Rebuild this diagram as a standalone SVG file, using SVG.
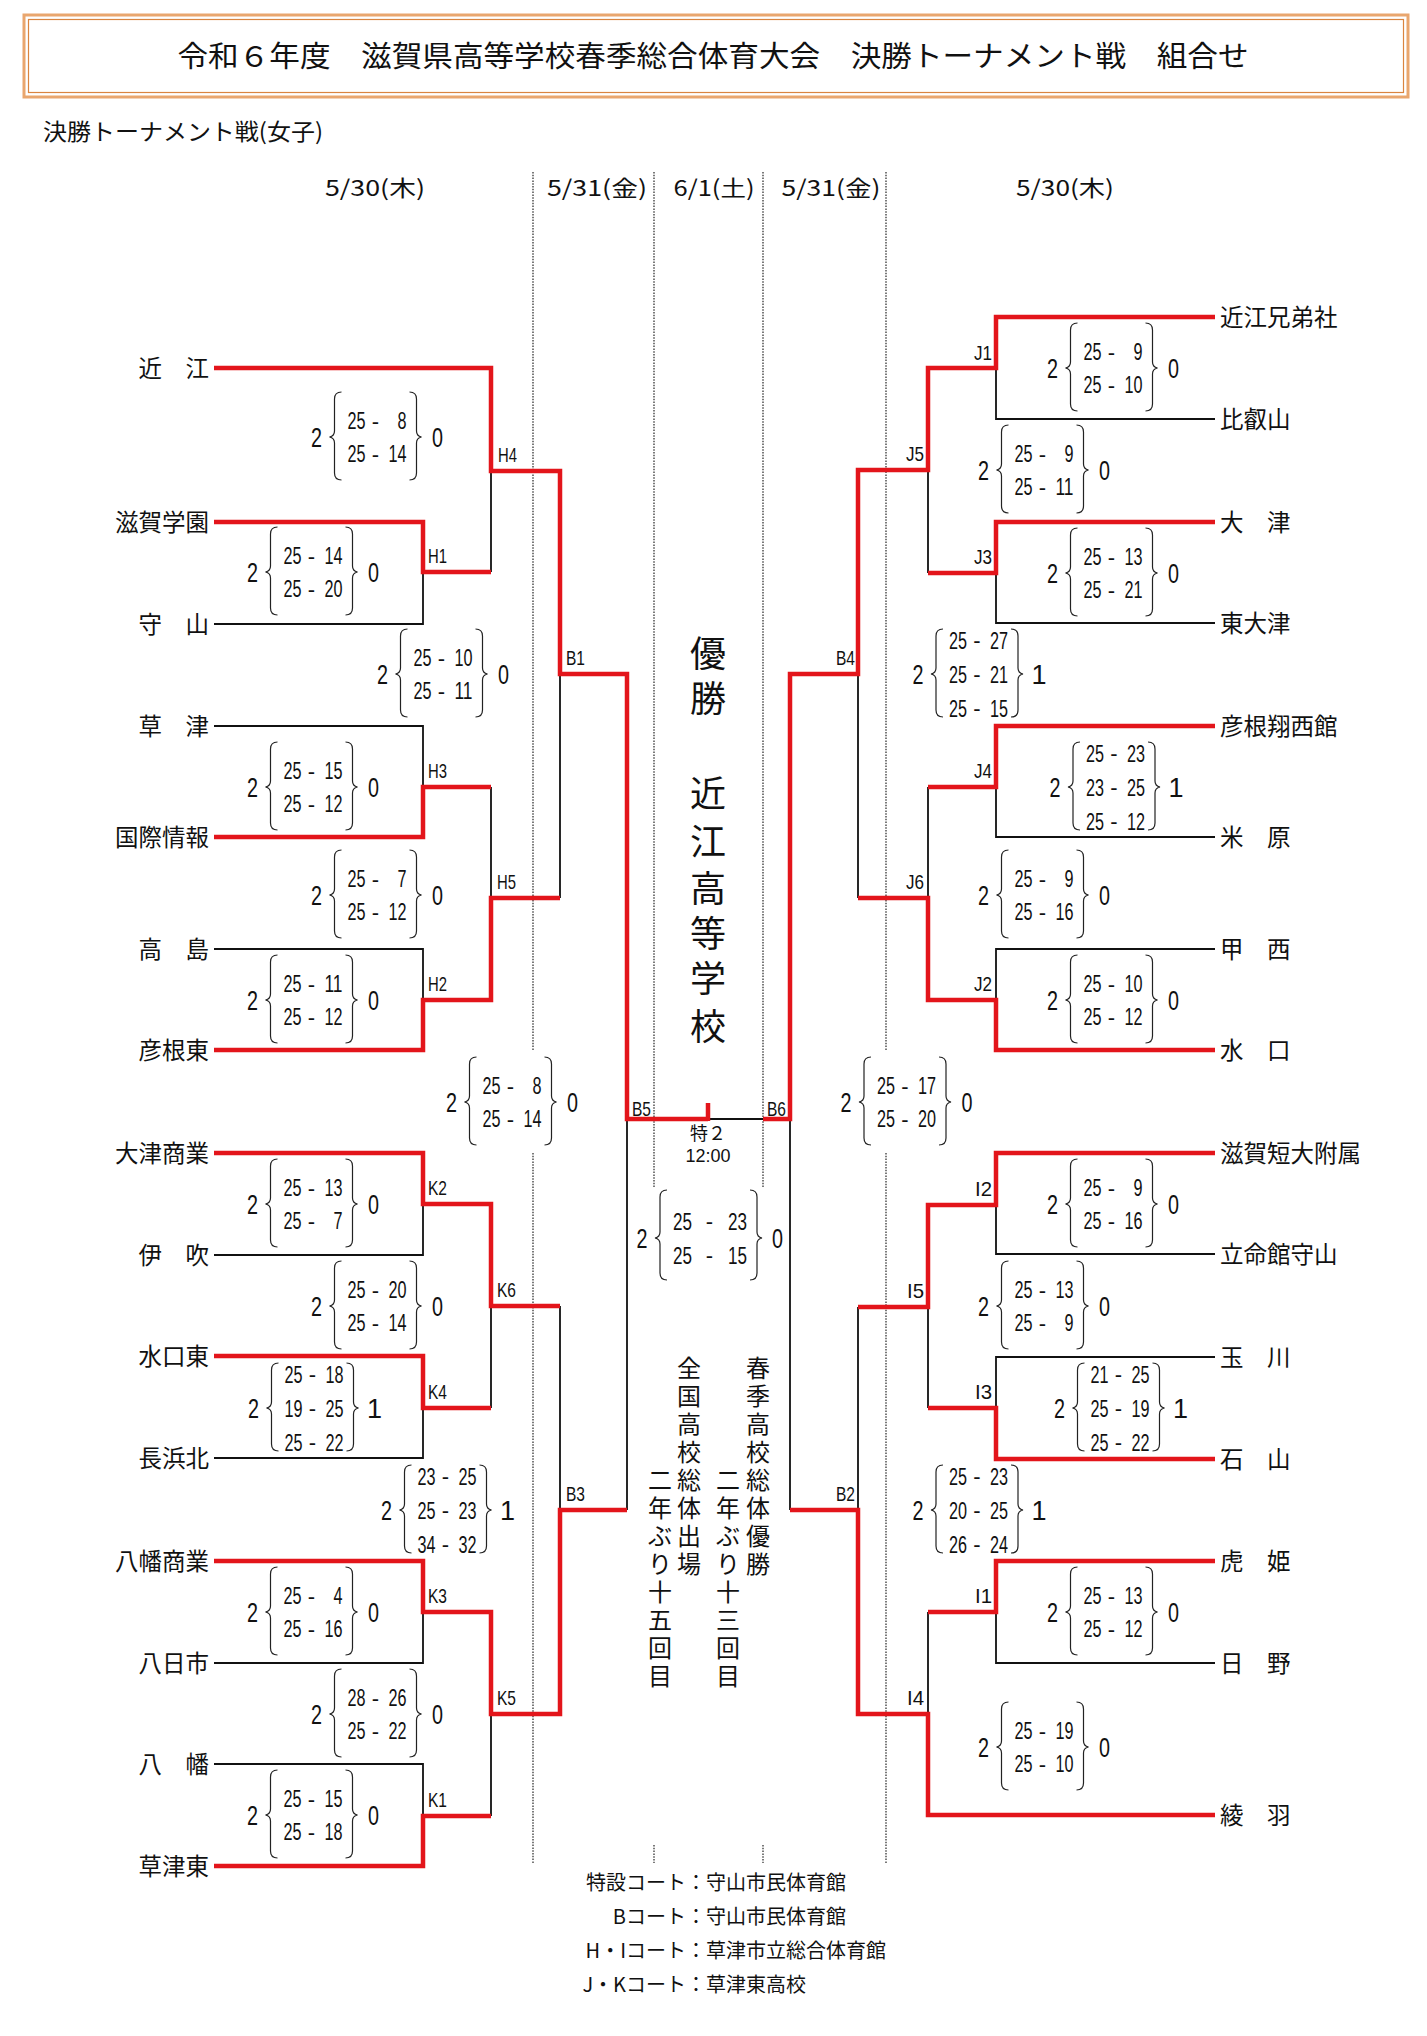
<svg xmlns="http://www.w3.org/2000/svg" xmlns:xlink="http://www.w3.org/1999/xlink" width="1427" height="2036" viewBox="0 0 1427 2036">
<style>
.red{fill:none;stroke:#e3151b;stroke-width:4.5;stroke-linejoin:miter}
.blk{fill:none;stroke:#111;stroke-width:1.8}
.dot{fill:none;stroke:#333;stroke-width:1.3;stroke-dasharray:1.5 1.3}
.jp{font-family:"Noto Sans CJK JP","Noto Sans CJK SC",sans-serif;fill:#111}
.nm{font-size:23.5px}
.nmL{text-anchor:end}
.lb{font-family:"Liberation Sans",sans-serif;font-size:21px;fill:#111}
.lbR{text-anchor:end}
.cnt{font-family:"Liberation Sans",sans-serif;font-size:27px;fill:#111;text-anchor:middle}
.sc{font-family:"Liberation Sans",sans-serif;font-size:23.5px;fill:#111;text-anchor:end}
.ds{font-family:"Liberation Sans",sans-serif;font-size:22px;fill:#111;text-anchor:middle}
.br{fill:none;stroke:#222;stroke-width:1.2}
.big{font-size:36px;text-anchor:middle}
.vt{font-size:24px;text-anchor:middle}
.lg{font-size:20px}
</style>
<defs>
<path id="brL" class="br" d="M25,-45 Q18,-45 18,-38 V-6 Q18,-1 13,0 Q18,1 18,6 V36 Q18,43 25,43"/>
<path id="brR" class="br" d="M93,-45 Q100,-45 100,-38 V-6 Q100,-1 105,0 Q100,1 100,6 V36 Q100,43 93,43"/>
</defs>
<rect width="1427" height="2036" fill="#fff"/>

<g id="title">
<rect x="24" y="15" width="1384" height="82" fill="none" stroke="#e9a66e" stroke-width="3"/>
<rect x="28.5" y="19.5" width="1375" height="73" fill="none" stroke="#d9843f" stroke-width="1.2"/>
<text class="jp" x="713" y="67" text-anchor="middle" font-size="29" textLength="1071" lengthAdjust="spacingAndGlyphs">令和６年度　滋賀県高等学校春季総合体育大会　決勝トーナメント戦　組合せ</text>
</g>
<text id="subtitle" class="jp" x="43" y="140" font-size="23" textLength="280" lengthAdjust="spacingAndGlyphs">決勝トーナメント戦(女子)</text>

<g id="dates" class="jp" font-size="22" text-anchor="middle">
<text x="375" y="196" textLength="100" lengthAdjust="spacingAndGlyphs">5/30(木)</text>
<text x="597" y="196" textLength="100" lengthAdjust="spacingAndGlyphs">5/31(金)</text>
<text x="714" y="196" textLength="81" lengthAdjust="spacingAndGlyphs">6/1(土)</text>
<text x="831" y="196" textLength="99" lengthAdjust="spacingAndGlyphs">5/31(金)</text>
<text x="1065" y="196" textLength="98" lengthAdjust="spacingAndGlyphs">5/30(木)</text>
</g>

<g id="day-dividers">
<path class="dot" d="M533,172 V1050 M533,1153 V1863 M886,172 V1050 M886,1153 V1863 M654,172 V1187 M654,1845 V1863 M763,172 V1187 M763,1845 V1863"/>
</g>

<g id="connectors">
<path class="blk" d="M214,624 H423 V572 M214,726 H423 V787 M214,949 H423 V1000 M491,572 V471 M491,787 V898 M560,898 V674 M627,1119 V1510"/>
<path class="blk" d="M214,1255 H423 V1204 M214,1458 H423 V1408 M491,1408 V1306 M560,1306 V1510 M214,1663 H423 V1612 M214,1764 H423 V1816 M491,1816 V1714"/>
<path class="blk" d="M1215,419 H996 V368 M1215,623 H996 V573 M928,573 V470 M858,674 V898 M928,787 V898 M1215,837 H996 V787 M1215,949 H996 V1000 M790,1119 V1510 M763,1119 H708"/>
<path class="blk" d="M1215,1254 H996 V1205 M928,1307 V1408 M1215,1357 H996 V1408 M858,1307 V1510 M1215,1663 H996 V1612 M928,1612 V1714"/>
<path class="red" d="M214,368 H491 V471 H560 V674 H627 V1119 H708 M708,1121 V1103"/>
<path class="red" d="M214,522 H423 V572 H491 M214,837 H423 V787 H491 M214,1050 H423 V1000 H491 V898 H560"/>
<path class="red" d="M214,1153 H423 V1204 H491 V1306 H560 M214,1356 H423 V1408 H491 M214,1561 H423 V1612 H491 V1714 H560 V1510 H627 M214,1866 H423 V1816 H491"/>
<path class="red" d="M1215,317 H996 V368 H928 V470 H858 V674 H790 V1119 H763 M1215,522 H996 V573 H928 M1215,726 H996 V787 H928 M1215,1050 H996 V1000 H928 V898 H858"/>
<path class="red" d="M1215,1153 H996 V1205 H928 V1307 H858 M1215,1459 H996 V1408 H928 M790,1510 H858 V1714 H928 V1815 H1215 M1215,1561 H996 V1612 H928"/>
</g>

<g id="teams-left" class="jp nm nmL">
<g id="t-omi"><text x="209" y="376.5">近　江</text></g>
<g id="t-shigagakuen"><text x="209" y="530.5">滋賀学園</text></g>
<g id="t-moriyama"><text x="209" y="632.5">守　山</text></g>
<g id="t-kusatsu"><text x="209" y="734.5">草　津</text></g>
<g id="t-kokusai"><text x="209" y="845.5">国際情報</text></g>
<g id="t-takashima"><text x="209" y="957.5">高　島</text></g>
<g id="t-hikonehigashi"><text x="209" y="1058.5">彦根東</text></g>
<g id="t-otsushogyo"><text x="209" y="1161.5">大津商業</text></g>
<g id="t-ibuki"><text x="209" y="1263.5">伊　吹</text></g>
<g id="t-minakuchihigashi"><text x="209" y="1364.5">水口東</text></g>
<g id="t-nagahamakita"><text x="209" y="1466.5">長浜北</text></g>
<g id="t-hachimanshogyo"><text x="209" y="1569.5">八幡商業</text></g>
<g id="t-yokaichi"><text x="209" y="1671.5">八日市</text></g>
<g id="t-hachiman"><text x="209" y="1772.5">八　幡</text></g>
<g id="t-kusatsuhigashi"><text x="209" y="1874.5">草津東</text></g>
</g>

<g id="teams-right" class="jp nm">
<g id="t-omikyodaisha"><text x="1220" y="325.5">近江兄弟社</text></g>
<g id="t-hieizan"><text x="1220" y="427.5">比叡山</text></g>
<g id="t-otsu"><text x="1220" y="530.5">大　津</text></g>
<g id="t-higashiotsu"><text x="1220" y="631.5">東大津</text></g>
<g id="t-hikoneshosei"><text x="1220" y="734.5">彦根翔西館</text></g>
<g id="t-maibara"><text x="1220" y="845.5">米　原</text></g>
<g id="t-kosei"><text x="1220" y="957.5">甲　西</text></g>
<g id="t-minakuchi"><text x="1220" y="1058.5">水　口</text></g>
<g id="t-shigatandai"><text x="1220" y="1161.5">滋賀短大附属</text></g>
<g id="t-ritsumeikan"><text x="1220" y="1262.5">立命館守山</text></g>
<g id="t-tamagawa"><text x="1220" y="1365.5">玉　川</text></g>
<g id="t-ishiyama"><text x="1220" y="1467.5">石　山</text></g>
<g id="t-torahime"><text x="1220" y="1569.5">虎　姫</text></g>
<g id="t-hino"><text x="1220" y="1671.5">日　野</text></g>
<g id="t-ayaha"><text x="1220" y="1823.5">綾　羽</text></g>
</g>

<g id="match-labels">
<text class="lb" x="498" y="462" textLength="19" lengthAdjust="spacingAndGlyphs">H4</text>
<text class="lb" x="428" y="563" textLength="19" lengthAdjust="spacingAndGlyphs">H1</text>
<text class="lb" x="566" y="665" textLength="19" lengthAdjust="spacingAndGlyphs">B1</text>
<text class="lb" x="428" y="778" textLength="19" lengthAdjust="spacingAndGlyphs">H3</text>
<text class="lb" x="497" y="889" textLength="19" lengthAdjust="spacingAndGlyphs">H5</text>
<text class="lb" x="428" y="991" textLength="19" lengthAdjust="spacingAndGlyphs">H2</text>
<text class="lb" x="632" y="1116" textLength="19" lengthAdjust="spacingAndGlyphs">B5</text>
<text class="lb" x="428" y="1195" textLength="19" lengthAdjust="spacingAndGlyphs">K2</text>
<text class="lb" x="497" y="1297" textLength="19" lengthAdjust="spacingAndGlyphs">K6</text>
<text class="lb" x="428" y="1399" textLength="19" lengthAdjust="spacingAndGlyphs">K4</text>
<text class="lb" x="566" y="1501" textLength="19" lengthAdjust="spacingAndGlyphs">B3</text>
<text class="lb" x="428" y="1603" textLength="19" lengthAdjust="spacingAndGlyphs">K3</text>
<text class="lb" x="497" y="1705" textLength="19" lengthAdjust="spacingAndGlyphs">K5</text>
<text class="lb" x="428" y="1807" textLength="19" lengthAdjust="spacingAndGlyphs">K1</text>
<text class="lb lbR" x="992" y="360" textLength="18" lengthAdjust="spacingAndGlyphs">J1</text>
<text class="lb lbR" x="924" y="461" textLength="18" lengthAdjust="spacingAndGlyphs">J5</text>
<text class="lb lbR" x="992" y="564" textLength="18" lengthAdjust="spacingAndGlyphs">J3</text>
<text class="lb lbR" x="855" y="665" textLength="19" lengthAdjust="spacingAndGlyphs">B4</text>
<text class="lb lbR" x="992" y="778" textLength="18" lengthAdjust="spacingAndGlyphs">J4</text>
<text class="lb lbR" x="924" y="889" textLength="18" lengthAdjust="spacingAndGlyphs">J6</text>
<text class="lb lbR" x="992" y="991" textLength="18" lengthAdjust="spacingAndGlyphs">J2</text>
<text class="lb lbR" x="786" y="1116" textLength="19" lengthAdjust="spacingAndGlyphs">B6</text>
<text class="lb lbR" x="992" y="1196" textLength="17" lengthAdjust="spacingAndGlyphs">I2</text>
<text class="lb lbR" x="924" y="1298" textLength="17" lengthAdjust="spacingAndGlyphs">I5</text>
<text class="lb lbR" x="992" y="1399" textLength="17" lengthAdjust="spacingAndGlyphs">I3</text>
<text class="lb lbR" x="855" y="1501" textLength="19" lengthAdjust="spacingAndGlyphs">B2</text>
<text class="lb lbR" x="992" y="1603" textLength="17" lengthAdjust="spacingAndGlyphs">I1</text>
<text class="lb lbR" x="924" y="1705" textLength="17" lengthAdjust="spacingAndGlyphs">I4</text>
</g>

<g id="scores">
<g id="s-h4" transform="translate(316.5,437)"><text class="cnt" y="9.5" textLength="11" lengthAdjust="spacingAndGlyphs">2</text><use href="#brL"/><text class="sc" x="49" y="-8" textLength="18" lengthAdjust="spacingAndGlyphs">25</text><text class="ds" x="59" y="-8.5">-</text><text class="sc" x="90" y="-8" textLength="9" lengthAdjust="spacingAndGlyphs">8</text><text class="sc" x="49" y="25" textLength="18" lengthAdjust="spacingAndGlyphs">25</text><text class="ds" x="59" y="24.5">-</text><text class="sc" x="90" y="25" textLength="18" lengthAdjust="spacingAndGlyphs">14</text><use href="#brR"/><text class="cnt" x="121" y="9.5" textLength="11" lengthAdjust="spacingAndGlyphs">0</text></g>
<g id="s-h1" transform="translate(252.5,572)"><text class="cnt" y="9.5" textLength="11" lengthAdjust="spacingAndGlyphs">2</text><use href="#brL"/><text class="sc" x="49" y="-8" textLength="18" lengthAdjust="spacingAndGlyphs">25</text><text class="ds" x="59" y="-8.5">-</text><text class="sc" x="90" y="-8" textLength="18" lengthAdjust="spacingAndGlyphs">14</text><text class="sc" x="49" y="25" textLength="18" lengthAdjust="spacingAndGlyphs">25</text><text class="ds" x="59" y="24.5">-</text><text class="sc" x="90" y="25" textLength="18" lengthAdjust="spacingAndGlyphs">20</text><use href="#brR"/><text class="cnt" x="121" y="9.5" textLength="11" lengthAdjust="spacingAndGlyphs">0</text></g>
<g id="s-b1" transform="translate(382.5,674)"><text class="cnt" y="9.5" textLength="11" lengthAdjust="spacingAndGlyphs">2</text><use href="#brL"/><text class="sc" x="49" y="-8" textLength="18" lengthAdjust="spacingAndGlyphs">25</text><text class="ds" x="59" y="-8.5">-</text><text class="sc" x="90" y="-8" textLength="18" lengthAdjust="spacingAndGlyphs">10</text><text class="sc" x="49" y="25" textLength="18" lengthAdjust="spacingAndGlyphs">25</text><text class="ds" x="59" y="24.5">-</text><text class="sc" x="90" y="25" textLength="18" lengthAdjust="spacingAndGlyphs">11</text><use href="#brR"/><text class="cnt" x="121" y="9.5" textLength="11" lengthAdjust="spacingAndGlyphs">0</text></g>
<g id="s-h3" transform="translate(252.5,787)"><text class="cnt" y="9.5" textLength="11" lengthAdjust="spacingAndGlyphs">2</text><use href="#brL"/><text class="sc" x="49" y="-8" textLength="18" lengthAdjust="spacingAndGlyphs">25</text><text class="ds" x="59" y="-8.5">-</text><text class="sc" x="90" y="-8" textLength="18" lengthAdjust="spacingAndGlyphs">15</text><text class="sc" x="49" y="25" textLength="18" lengthAdjust="spacingAndGlyphs">25</text><text class="ds" x="59" y="24.5">-</text><text class="sc" x="90" y="25" textLength="18" lengthAdjust="spacingAndGlyphs">12</text><use href="#brR"/><text class="cnt" x="121" y="9.5" textLength="11" lengthAdjust="spacingAndGlyphs">0</text></g>
<g id="s-h5" transform="translate(316.5,895)"><text class="cnt" y="9.5" textLength="11" lengthAdjust="spacingAndGlyphs">2</text><use href="#brL"/><text class="sc" x="49" y="-8" textLength="18" lengthAdjust="spacingAndGlyphs">25</text><text class="ds" x="59" y="-8.5">-</text><text class="sc" x="90" y="-8" textLength="9" lengthAdjust="spacingAndGlyphs">7</text><text class="sc" x="49" y="25" textLength="18" lengthAdjust="spacingAndGlyphs">25</text><text class="ds" x="59" y="24.5">-</text><text class="sc" x="90" y="25" textLength="18" lengthAdjust="spacingAndGlyphs">12</text><use href="#brR"/><text class="cnt" x="121" y="9.5" textLength="11" lengthAdjust="spacingAndGlyphs">0</text></g>
<g id="s-h2" transform="translate(252.5,1000)"><text class="cnt" y="9.5" textLength="11" lengthAdjust="spacingAndGlyphs">2</text><use href="#brL"/><text class="sc" x="49" y="-8" textLength="18" lengthAdjust="spacingAndGlyphs">25</text><text class="ds" x="59" y="-8.5">-</text><text class="sc" x="90" y="-8" textLength="18" lengthAdjust="spacingAndGlyphs">11</text><text class="sc" x="49" y="25" textLength="18" lengthAdjust="spacingAndGlyphs">25</text><text class="ds" x="59" y="24.5">-</text><text class="sc" x="90" y="25" textLength="18" lengthAdjust="spacingAndGlyphs">12</text><use href="#brR"/><text class="cnt" x="121" y="9.5" textLength="11" lengthAdjust="spacingAndGlyphs">0</text></g>
<g id="s-b5" transform="translate(451.5,1102)"><text class="cnt" y="9.5" textLength="11" lengthAdjust="spacingAndGlyphs">2</text><use href="#brL"/><text class="sc" x="49" y="-8" textLength="18" lengthAdjust="spacingAndGlyphs">25</text><text class="ds" x="59" y="-8.5">-</text><text class="sc" x="90" y="-8" textLength="9" lengthAdjust="spacingAndGlyphs">8</text><text class="sc" x="49" y="25" textLength="18" lengthAdjust="spacingAndGlyphs">25</text><text class="ds" x="59" y="24.5">-</text><text class="sc" x="90" y="25" textLength="18" lengthAdjust="spacingAndGlyphs">14</text><use href="#brR"/><text class="cnt" x="121" y="9.5" textLength="11" lengthAdjust="spacingAndGlyphs">0</text></g>
<g id="s-k2" transform="translate(252.5,1204)"><text class="cnt" y="9.5" textLength="11" lengthAdjust="spacingAndGlyphs">2</text><use href="#brL"/><text class="sc" x="49" y="-8" textLength="18" lengthAdjust="spacingAndGlyphs">25</text><text class="ds" x="59" y="-8.5">-</text><text class="sc" x="90" y="-8" textLength="18" lengthAdjust="spacingAndGlyphs">13</text><text class="sc" x="49" y="25" textLength="18" lengthAdjust="spacingAndGlyphs">25</text><text class="ds" x="59" y="24.5">-</text><text class="sc" x="90" y="25" textLength="9" lengthAdjust="spacingAndGlyphs">7</text><use href="#brR"/><text class="cnt" x="121" y="9.5" textLength="11" lengthAdjust="spacingAndGlyphs">0</text></g>
<g id="s-k6" transform="translate(316.5,1306)"><text class="cnt" y="9.5" textLength="11" lengthAdjust="spacingAndGlyphs">2</text><use href="#brL"/><text class="sc" x="49" y="-8" textLength="18" lengthAdjust="spacingAndGlyphs">25</text><text class="ds" x="59" y="-8.5">-</text><text class="sc" x="90" y="-8" textLength="18" lengthAdjust="spacingAndGlyphs">20</text><text class="sc" x="49" y="25" textLength="18" lengthAdjust="spacingAndGlyphs">25</text><text class="ds" x="59" y="24.5">-</text><text class="sc" x="90" y="25" textLength="18" lengthAdjust="spacingAndGlyphs">14</text><use href="#brR"/><text class="cnt" x="121" y="9.5" textLength="11" lengthAdjust="spacingAndGlyphs">0</text></g>
<g id="s-k4" transform="translate(253.5,1408)"><text class="cnt" y="9.5" textLength="11" lengthAdjust="spacingAndGlyphs">2</text><use href="#brL"/><text class="sc" x="49" y="-25.5" textLength="18" lengthAdjust="spacingAndGlyphs">25</text><text class="ds" x="59" y="-26">-</text><text class="sc" x="90" y="-25.5" textLength="18" lengthAdjust="spacingAndGlyphs">18</text><text class="sc" x="49" y="8.5" textLength="18" lengthAdjust="spacingAndGlyphs">19</text><text class="ds" x="59" y="8">-</text><text class="sc" x="90" y="8.5" textLength="18" lengthAdjust="spacingAndGlyphs">25</text><text class="sc" x="49" y="42.5" textLength="18" lengthAdjust="spacingAndGlyphs">25</text><text class="ds" x="59" y="42">-</text><text class="sc" x="90" y="42.5" textLength="18" lengthAdjust="spacingAndGlyphs">22</text><use href="#brR"/><text class="cnt" x="121" y="9.5">1</text></g>
<g id="s-b3" transform="translate(386.5,1510)"><text class="cnt" y="9.5" textLength="11" lengthAdjust="spacingAndGlyphs">2</text><use href="#brL"/><text class="sc" x="49" y="-25.5" textLength="18" lengthAdjust="spacingAndGlyphs">23</text><text class="ds" x="59" y="-26">-</text><text class="sc" x="90" y="-25.5" textLength="18" lengthAdjust="spacingAndGlyphs">25</text><text class="sc" x="49" y="8.5" textLength="18" lengthAdjust="spacingAndGlyphs">25</text><text class="ds" x="59" y="8">-</text><text class="sc" x="90" y="8.5" textLength="18" lengthAdjust="spacingAndGlyphs">23</text><text class="sc" x="49" y="42.5" textLength="18" lengthAdjust="spacingAndGlyphs">34</text><text class="ds" x="59" y="42">-</text><text class="sc" x="90" y="42.5" textLength="18" lengthAdjust="spacingAndGlyphs">32</text><use href="#brR"/><text class="cnt" x="121" y="9.5">1</text></g>
<g id="s-k3" transform="translate(252.5,1612)"><text class="cnt" y="9.5" textLength="11" lengthAdjust="spacingAndGlyphs">2</text><use href="#brL"/><text class="sc" x="49" y="-8" textLength="18" lengthAdjust="spacingAndGlyphs">25</text><text class="ds" x="59" y="-8.5">-</text><text class="sc" x="90" y="-8" textLength="9" lengthAdjust="spacingAndGlyphs">4</text><text class="sc" x="49" y="25" textLength="18" lengthAdjust="spacingAndGlyphs">25</text><text class="ds" x="59" y="24.5">-</text><text class="sc" x="90" y="25" textLength="18" lengthAdjust="spacingAndGlyphs">16</text><use href="#brR"/><text class="cnt" x="121" y="9.5" textLength="11" lengthAdjust="spacingAndGlyphs">0</text></g>
<g id="s-k5" transform="translate(316.5,1714)"><text class="cnt" y="9.5" textLength="11" lengthAdjust="spacingAndGlyphs">2</text><use href="#brL"/><text class="sc" x="49" y="-8" textLength="18" lengthAdjust="spacingAndGlyphs">28</text><text class="ds" x="59" y="-8.5">-</text><text class="sc" x="90" y="-8" textLength="18" lengthAdjust="spacingAndGlyphs">26</text><text class="sc" x="49" y="25" textLength="18" lengthAdjust="spacingAndGlyphs">25</text><text class="ds" x="59" y="24.5">-</text><text class="sc" x="90" y="25" textLength="18" lengthAdjust="spacingAndGlyphs">22</text><use href="#brR"/><text class="cnt" x="121" y="9.5" textLength="11" lengthAdjust="spacingAndGlyphs">0</text></g>
<g id="s-k1" transform="translate(252.5,1815)"><text class="cnt" y="9.5" textLength="11" lengthAdjust="spacingAndGlyphs">2</text><use href="#brL"/><text class="sc" x="49" y="-8" textLength="18" lengthAdjust="spacingAndGlyphs">25</text><text class="ds" x="59" y="-8.5">-</text><text class="sc" x="90" y="-8" textLength="18" lengthAdjust="spacingAndGlyphs">15</text><text class="sc" x="49" y="25" textLength="18" lengthAdjust="spacingAndGlyphs">25</text><text class="ds" x="59" y="24.5">-</text><text class="sc" x="90" y="25" textLength="18" lengthAdjust="spacingAndGlyphs">18</text><use href="#brR"/><text class="cnt" x="121" y="9.5" textLength="11" lengthAdjust="spacingAndGlyphs">0</text></g>

<g id="s-j1" transform="translate(1052.5,368)"><text class="cnt" y="9.5" textLength="11" lengthAdjust="spacingAndGlyphs">2</text><use href="#brL"/><text class="sc" x="49" y="-8" textLength="18" lengthAdjust="spacingAndGlyphs">25</text><text class="ds" x="59" y="-8.5">-</text><text class="sc" x="90" y="-8" textLength="9" lengthAdjust="spacingAndGlyphs">9</text><text class="sc" x="49" y="25" textLength="18" lengthAdjust="spacingAndGlyphs">25</text><text class="ds" x="59" y="24.5">-</text><text class="sc" x="90" y="25" textLength="18" lengthAdjust="spacingAndGlyphs">10</text><use href="#brR"/><text class="cnt" x="121" y="9.5" textLength="11" lengthAdjust="spacingAndGlyphs">0</text></g>
<g id="s-j5" transform="translate(983.5,470)"><text class="cnt" y="9.5" textLength="11" lengthAdjust="spacingAndGlyphs">2</text><use href="#brL"/><text class="sc" x="49" y="-8" textLength="18" lengthAdjust="spacingAndGlyphs">25</text><text class="ds" x="59" y="-8.5">-</text><text class="sc" x="90" y="-8" textLength="9" lengthAdjust="spacingAndGlyphs">9</text><text class="sc" x="49" y="25" textLength="18" lengthAdjust="spacingAndGlyphs">25</text><text class="ds" x="59" y="24.5">-</text><text class="sc" x="90" y="25" textLength="18" lengthAdjust="spacingAndGlyphs">11</text><use href="#brR"/><text class="cnt" x="121" y="9.5" textLength="11" lengthAdjust="spacingAndGlyphs">0</text></g>
<g id="s-j3" transform="translate(1052.5,573)"><text class="cnt" y="9.5" textLength="11" lengthAdjust="spacingAndGlyphs">2</text><use href="#brL"/><text class="sc" x="49" y="-8" textLength="18" lengthAdjust="spacingAndGlyphs">25</text><text class="ds" x="59" y="-8.5">-</text><text class="sc" x="90" y="-8" textLength="18" lengthAdjust="spacingAndGlyphs">13</text><text class="sc" x="49" y="25" textLength="18" lengthAdjust="spacingAndGlyphs">25</text><text class="ds" x="59" y="24.5">-</text><text class="sc" x="90" y="25" textLength="18" lengthAdjust="spacingAndGlyphs">21</text><use href="#brR"/><text class="cnt" x="121" y="9.5" textLength="11" lengthAdjust="spacingAndGlyphs">0</text></g>
<g id="s-b4" transform="translate(918,674)"><text class="cnt" y="9.5" textLength="11" lengthAdjust="spacingAndGlyphs">2</text><use href="#brL"/><text class="sc" x="49" y="-25.5" textLength="18" lengthAdjust="spacingAndGlyphs">25</text><text class="ds" x="59" y="-26">-</text><text class="sc" x="90" y="-25.5" textLength="18" lengthAdjust="spacingAndGlyphs">27</text><text class="sc" x="49" y="8.5" textLength="18" lengthAdjust="spacingAndGlyphs">25</text><text class="ds" x="59" y="8">-</text><text class="sc" x="90" y="8.5" textLength="18" lengthAdjust="spacingAndGlyphs">21</text><text class="sc" x="49" y="42.5" textLength="18" lengthAdjust="spacingAndGlyphs">25</text><text class="ds" x="59" y="42">-</text><text class="sc" x="90" y="42.5" textLength="18" lengthAdjust="spacingAndGlyphs">15</text><use href="#brR"/><text class="cnt" x="121" y="9.5">1</text></g>
<g id="s-j4" transform="translate(1055,787)"><text class="cnt" y="9.5" textLength="11" lengthAdjust="spacingAndGlyphs">2</text><use href="#brL"/><text class="sc" x="49" y="-25.5" textLength="18" lengthAdjust="spacingAndGlyphs">25</text><text class="ds" x="59" y="-26">-</text><text class="sc" x="90" y="-25.5" textLength="18" lengthAdjust="spacingAndGlyphs">23</text><text class="sc" x="49" y="8.5" textLength="18" lengthAdjust="spacingAndGlyphs">23</text><text class="ds" x="59" y="8">-</text><text class="sc" x="90" y="8.5" textLength="18" lengthAdjust="spacingAndGlyphs">25</text><text class="sc" x="49" y="42.5" textLength="18" lengthAdjust="spacingAndGlyphs">25</text><text class="ds" x="59" y="42">-</text><text class="sc" x="90" y="42.5" textLength="18" lengthAdjust="spacingAndGlyphs">12</text><use href="#brR"/><text class="cnt" x="121" y="9.5">1</text></g>
<g id="s-j6" transform="translate(983.5,895)"><text class="cnt" y="9.5" textLength="11" lengthAdjust="spacingAndGlyphs">2</text><use href="#brL"/><text class="sc" x="49" y="-8" textLength="18" lengthAdjust="spacingAndGlyphs">25</text><text class="ds" x="59" y="-8.5">-</text><text class="sc" x="90" y="-8" textLength="9" lengthAdjust="spacingAndGlyphs">9</text><text class="sc" x="49" y="25" textLength="18" lengthAdjust="spacingAndGlyphs">25</text><text class="ds" x="59" y="24.5">-</text><text class="sc" x="90" y="25" textLength="18" lengthAdjust="spacingAndGlyphs">16</text><use href="#brR"/><text class="cnt" x="121" y="9.5" textLength="11" lengthAdjust="spacingAndGlyphs">0</text></g>
<g id="s-j2" transform="translate(1052.5,1000)"><text class="cnt" y="9.5" textLength="11" lengthAdjust="spacingAndGlyphs">2</text><use href="#brL"/><text class="sc" x="49" y="-8" textLength="18" lengthAdjust="spacingAndGlyphs">25</text><text class="ds" x="59" y="-8.5">-</text><text class="sc" x="90" y="-8" textLength="18" lengthAdjust="spacingAndGlyphs">10</text><text class="sc" x="49" y="25" textLength="18" lengthAdjust="spacingAndGlyphs">25</text><text class="ds" x="59" y="24.5">-</text><text class="sc" x="90" y="25" textLength="18" lengthAdjust="spacingAndGlyphs">12</text><use href="#brR"/><text class="cnt" x="121" y="9.5" textLength="11" lengthAdjust="spacingAndGlyphs">0</text></g>
<g id="s-b6" transform="translate(846,1102)"><text class="cnt" y="9.5" textLength="11" lengthAdjust="spacingAndGlyphs">2</text><use href="#brL"/><text class="sc" x="49" y="-8" textLength="18" lengthAdjust="spacingAndGlyphs">25</text><text class="ds" x="59" y="-8.5">-</text><text class="sc" x="90" y="-8" textLength="18" lengthAdjust="spacingAndGlyphs">17</text><text class="sc" x="49" y="25" textLength="18" lengthAdjust="spacingAndGlyphs">25</text><text class="ds" x="59" y="24.5">-</text><text class="sc" x="90" y="25" textLength="18" lengthAdjust="spacingAndGlyphs">20</text><use href="#brR"/><text class="cnt" x="121" y="9.5" textLength="11" lengthAdjust="spacingAndGlyphs">0</text></g>
<g id="s-i2" transform="translate(1052.5,1204)"><text class="cnt" y="9.5" textLength="11" lengthAdjust="spacingAndGlyphs">2</text><use href="#brL"/><text class="sc" x="49" y="-8" textLength="18" lengthAdjust="spacingAndGlyphs">25</text><text class="ds" x="59" y="-8.5">-</text><text class="sc" x="90" y="-8" textLength="9" lengthAdjust="spacingAndGlyphs">9</text><text class="sc" x="49" y="25" textLength="18" lengthAdjust="spacingAndGlyphs">25</text><text class="ds" x="59" y="24.5">-</text><text class="sc" x="90" y="25" textLength="18" lengthAdjust="spacingAndGlyphs">16</text><use href="#brR"/><text class="cnt" x="121" y="9.5" textLength="11" lengthAdjust="spacingAndGlyphs">0</text></g>
<g id="s-i5" transform="translate(983.5,1306)"><text class="cnt" y="9.5" textLength="11" lengthAdjust="spacingAndGlyphs">2</text><use href="#brL"/><text class="sc" x="49" y="-8" textLength="18" lengthAdjust="spacingAndGlyphs">25</text><text class="ds" x="59" y="-8.5">-</text><text class="sc" x="90" y="-8" textLength="18" lengthAdjust="spacingAndGlyphs">13</text><text class="sc" x="49" y="25" textLength="18" lengthAdjust="spacingAndGlyphs">25</text><text class="ds" x="59" y="24.5">-</text><text class="sc" x="90" y="25" textLength="9" lengthAdjust="spacingAndGlyphs">9</text><use href="#brR"/><text class="cnt" x="121" y="9.5" textLength="11" lengthAdjust="spacingAndGlyphs">0</text></g>
<g id="s-i3" transform="translate(1059.5,1408)"><text class="cnt" y="9.5" textLength="11" lengthAdjust="spacingAndGlyphs">2</text><use href="#brL"/><text class="sc" x="49" y="-25.5" textLength="18" lengthAdjust="spacingAndGlyphs">21</text><text class="ds" x="59" y="-26">-</text><text class="sc" x="90" y="-25.5" textLength="18" lengthAdjust="spacingAndGlyphs">25</text><text class="sc" x="49" y="8.5" textLength="18" lengthAdjust="spacingAndGlyphs">25</text><text class="ds" x="59" y="8">-</text><text class="sc" x="90" y="8.5" textLength="18" lengthAdjust="spacingAndGlyphs">19</text><text class="sc" x="49" y="42.5" textLength="18" lengthAdjust="spacingAndGlyphs">25</text><text class="ds" x="59" y="42">-</text><text class="sc" x="90" y="42.5" textLength="18" lengthAdjust="spacingAndGlyphs">22</text><use href="#brR"/><text class="cnt" x="121" y="9.5">1</text></g>
<g id="s-b2" transform="translate(918,1510)"><text class="cnt" y="9.5" textLength="11" lengthAdjust="spacingAndGlyphs">2</text><use href="#brL"/><text class="sc" x="49" y="-25.5" textLength="18" lengthAdjust="spacingAndGlyphs">25</text><text class="ds" x="59" y="-26">-</text><text class="sc" x="90" y="-25.5" textLength="18" lengthAdjust="spacingAndGlyphs">23</text><text class="sc" x="49" y="8.5" textLength="18" lengthAdjust="spacingAndGlyphs">20</text><text class="ds" x="59" y="8">-</text><text class="sc" x="90" y="8.5" textLength="18" lengthAdjust="spacingAndGlyphs">25</text><text class="sc" x="49" y="42.5" textLength="18" lengthAdjust="spacingAndGlyphs">26</text><text class="ds" x="59" y="42">-</text><text class="sc" x="90" y="42.5" textLength="18" lengthAdjust="spacingAndGlyphs">24</text><use href="#brR"/><text class="cnt" x="121" y="9.5">1</text></g>
<g id="s-i1" transform="translate(1052.5,1612)"><text class="cnt" y="9.5" textLength="11" lengthAdjust="spacingAndGlyphs">2</text><use href="#brL"/><text class="sc" x="49" y="-8" textLength="18" lengthAdjust="spacingAndGlyphs">25</text><text class="ds" x="59" y="-8.5">-</text><text class="sc" x="90" y="-8" textLength="18" lengthAdjust="spacingAndGlyphs">13</text><text class="sc" x="49" y="25" textLength="18" lengthAdjust="spacingAndGlyphs">25</text><text class="ds" x="59" y="24.5">-</text><text class="sc" x="90" y="25" textLength="18" lengthAdjust="spacingAndGlyphs">12</text><use href="#brR"/><text class="cnt" x="121" y="9.5" textLength="11" lengthAdjust="spacingAndGlyphs">0</text></g>
<g id="s-i4" transform="translate(983.5,1747)"><text class="cnt" y="9.5" textLength="11" lengthAdjust="spacingAndGlyphs">2</text><use href="#brL"/><text class="sc" x="49" y="-8" textLength="18" lengthAdjust="spacingAndGlyphs">25</text><text class="ds" x="59" y="-8.5">-</text><text class="sc" x="90" y="-8" textLength="18" lengthAdjust="spacingAndGlyphs">19</text><text class="sc" x="49" y="25" textLength="18" lengthAdjust="spacingAndGlyphs">25</text><text class="ds" x="59" y="24.5">-</text><text class="sc" x="90" y="25" textLength="18" lengthAdjust="spacingAndGlyphs">10</text><use href="#brR"/><text class="cnt" x="121" y="9.5" textLength="11" lengthAdjust="spacingAndGlyphs">0</text></g>
</g>

<g id="final">
<text class="jp" x="708" y="1140" font-size="18" text-anchor="middle">特２</text>
<text x="708" y="1162" font-family="Liberation Sans, sans-serif" font-size="19" text-anchor="middle" fill="#111" textLength="45" lengthAdjust="spacingAndGlyphs">12:00</text>
<g id="s-final" transform="translate(642,1238)">
<text class="cnt" y="9.5" textLength="11" lengthAdjust="spacingAndGlyphs">2</text>
<path class="br" d="M25,-48 Q18,-48 18,-41 V-6 Q18,-1 13,0 Q18,1 18,6 V35 Q18,42 25,42"/>
<text class="sc" x="50" y="-8.5" textLength="19" lengthAdjust="spacingAndGlyphs">25</text><text class="ds" x="67.5" y="-9">-</text><text class="sc" x="105" y="-8.5" textLength="19" lengthAdjust="spacingAndGlyphs">23</text>
<text class="sc" x="50" y="25.5" textLength="19" lengthAdjust="spacingAndGlyphs">25</text><text class="ds" x="67.5" y="25">-</text><text class="sc" x="105" y="25.5" textLength="19" lengthAdjust="spacingAndGlyphs">15</text>
<path class="br" d="M108,-48 Q115,-48 115,-41 V-6 Q115,-1 120,0 Q115,1 115,6 V35 Q115,42 108,42"/>
<text class="cnt" x="135.5" y="9.5" textLength="11" lengthAdjust="spacingAndGlyphs">0</text>
</g>
</g>

<g id="champion" class="jp big">
<text x="708 708 708 708 708 708 708 708" y="667 712 807 855 902 947 992 1040">優勝近江高等学校</text>
</g>

<g id="notes" class="jp vt">
<text x="758 758 758 758 758 758 758 758" y="1377 1405 1433 1461 1489 1517 1545 1573">春季高校総体優勝</text>
<text x="728 728 728 728 728 728 728 728" y="1489 1517 1545 1573 1601 1629 1657 1685">二年ぶり十三回目</text>
<text x="689 689 689 689 689 689 689 689" y="1377 1405 1433 1461 1489 1517 1545 1573">全国高校総体出場</text>
<text x="660 660 660 660 660 660 660 660" y="1489 1517 1545 1573 1601 1629 1657 1685">二年ぶり十五回目</text>
</g>

<g id="legend" class="jp lg">
<text x="706" y="1889.5" text-anchor="end">特設コート：</text><text x="706" y="1889.5">守山市民体育館</text>
<text x="706" y="1923.5" text-anchor="end">Bコート：</text><text x="706" y="1923.5">守山市民体育館</text>
<text x="706" y="1957.5" text-anchor="end">H・Iコート：</text><text x="706" y="1957.5">草津市立総合体育館</text>
<text x="706" y="1991.5" text-anchor="end">J・Kコート：</text><text x="706" y="1991.5">草津東高校</text>
</g>
</svg>
